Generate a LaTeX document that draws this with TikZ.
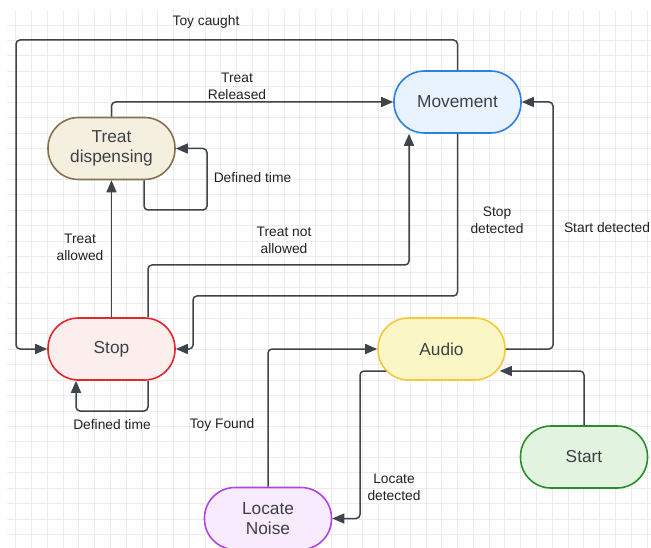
\documentclass[tikz,border=0pt]{standalone}
\usepackage{fontspec}
\setmainfont{Liberation Sans}
\usetikzlibrary{arrows.meta,calc}
\definecolor{gridc}{HTML}{ECECEC}
\definecolor{lc}{HTML}{3E4449}
\definecolor{txt}{HTML}{3D4146}
\definecolor{lblc}{HTML}{222222}
\definecolor{tdfill}{HTML}{F5EFE0}
\definecolor{tdline}{HTML}{85704F}
\definecolor{mvfill}{HTML}{E9F3FE}
\definecolor{mvline}{HTML}{2D7FE0}
\definecolor{spfill}{HTML}{FDEEEE}
\definecolor{spline}{HTML}{E3262B}
\definecolor{aufill}{HTML}{FAF6C6}
\definecolor{auline}{HTML}{F6C83A}
\definecolor{stfill}{HTML}{E2F3DF}
\definecolor{stline}{HTML}{2B8C2B}
\definecolor{lnfill}{HTML}{F7EBFD}
\definecolor{lnline}{HTML}{B044E6}
\tikzset{
  state/.style={rectangle, rounded corners=30.5pt, minimum width=127pt, minimum height=62pt,
    inner sep=0pt, line width=1.6pt, align=center, text=txt,
    font=\fontsize{17.3}{20.5}\selectfont},
  conn/.style={line width=1.5pt, draw=lc, rounded corners=4pt,
    -{Triangle[length=12pt,width=10pt]}},
  lbl/.style={font=\fontsize{13.8}{16.7}\selectfont, text=lblc, align=center, inner sep=0pt},
  gridline/.style={draw=gridc, line width=0.8pt}
}
\begin{document}
\begin{tikzpicture}[x=1pt,y=-1pt]
\useasboundingbox (0,0) rectangle (651,548);
\clip (0,0) rectangle (651,548);
\fill[white] (0,0) rectangle (651,548);
\foreach \i in {0,...,40} \draw[gridline] ({15.7+15.78*\i},10) -- ({15.7+15.78*\i},548);
\foreach \j in {0,...,34} \draw[gridline] (7,{25+15.44*\j}) -- (651,{25+15.44*\j});

% states
\node[state, fill=tdfill, draw=tdline] (td) at (111.5,148.5) {Treat\\dispensing};
\node[state, fill=mvfill, draw=mvline] (mov) at (457.5,102) {Movement};
\node[state, fill=spfill, draw=spline] (stop) at (111.5,349) {Stop};
\node[state, fill=aufill, draw=auline] (aud) at (441.5,349) {Audio};
\node[state, fill=stfill, draw=stline] (st) at (584,457) {Start};
\node[state, fill=lnfill, draw=lnline] (ln) at (268,518.5) {Locate\\Noise};

% bend coordinates
\coordinate (c1) at (16,40);
\coordinate (c3) at (207,210);
\coordinate (c5) at (409,265);
\coordinate (c6) at (193,296);
\coordinate (c7) at (553,102);
\coordinate (c10) at (360,518.5);
\coordinate (c11) at (76,411);

% connectors
\draw[conn] (mov.north) |- (c1) |- (stop.west);
\draw[conn] (td.north) |- (mov.west);
\draw[conn] ($(td.south)+(32.5,0)$) |- (c3) |- (td.east);
\draw[conn] (stop.north) -- (td.south);
\draw[conn] ($(stop.north)+(36.5,0)$) |- (c5) -- ($(mov.south)+(-48.5,0)$);
\draw[conn] (mov.south) |- (c6) |- (stop.east);
\draw[conn] (aud.east) -| (c7) -- (mov.east);
\draw[conn] (ln.north) |- (aud.west);
\draw[conn] (st.north) |- ($(aud.east)+(-6,22)$);
\draw[conn] ($(aud.west)+(9,22)$) -| (c10) -- (ln.east);
\draw[conn] ($(stop.south)+(36.5,0)$) |- (c11) -- ($(stop.south)+(-35.5,0)$);

% labels
\node[lbl] (l1) at (206,22) {Toy caught};
\node[lbl] (l2) at (237,86.5) {Treat\\Released};
\node[lbl] (l3) at (252.5,178) {Defined time};
\node[lbl] (l4) at (80,247) {Treat\\allowed};
\node[lbl] (l5) at (284,240) {Treat not\\allowed};
\node[lbl] (l6) at (497,220.5) {Stop\\detected};
\node[lbl] (l7) at (607,228) {Start detected};
\node[lbl] (l8) at (222,425) {Toy Found};
\node[lbl] (l9) at (394,487.5) {Locate\\detected};
\node[lbl] (l10) at (112,425) {Defined time};
\end{tikzpicture}
\end{document}
